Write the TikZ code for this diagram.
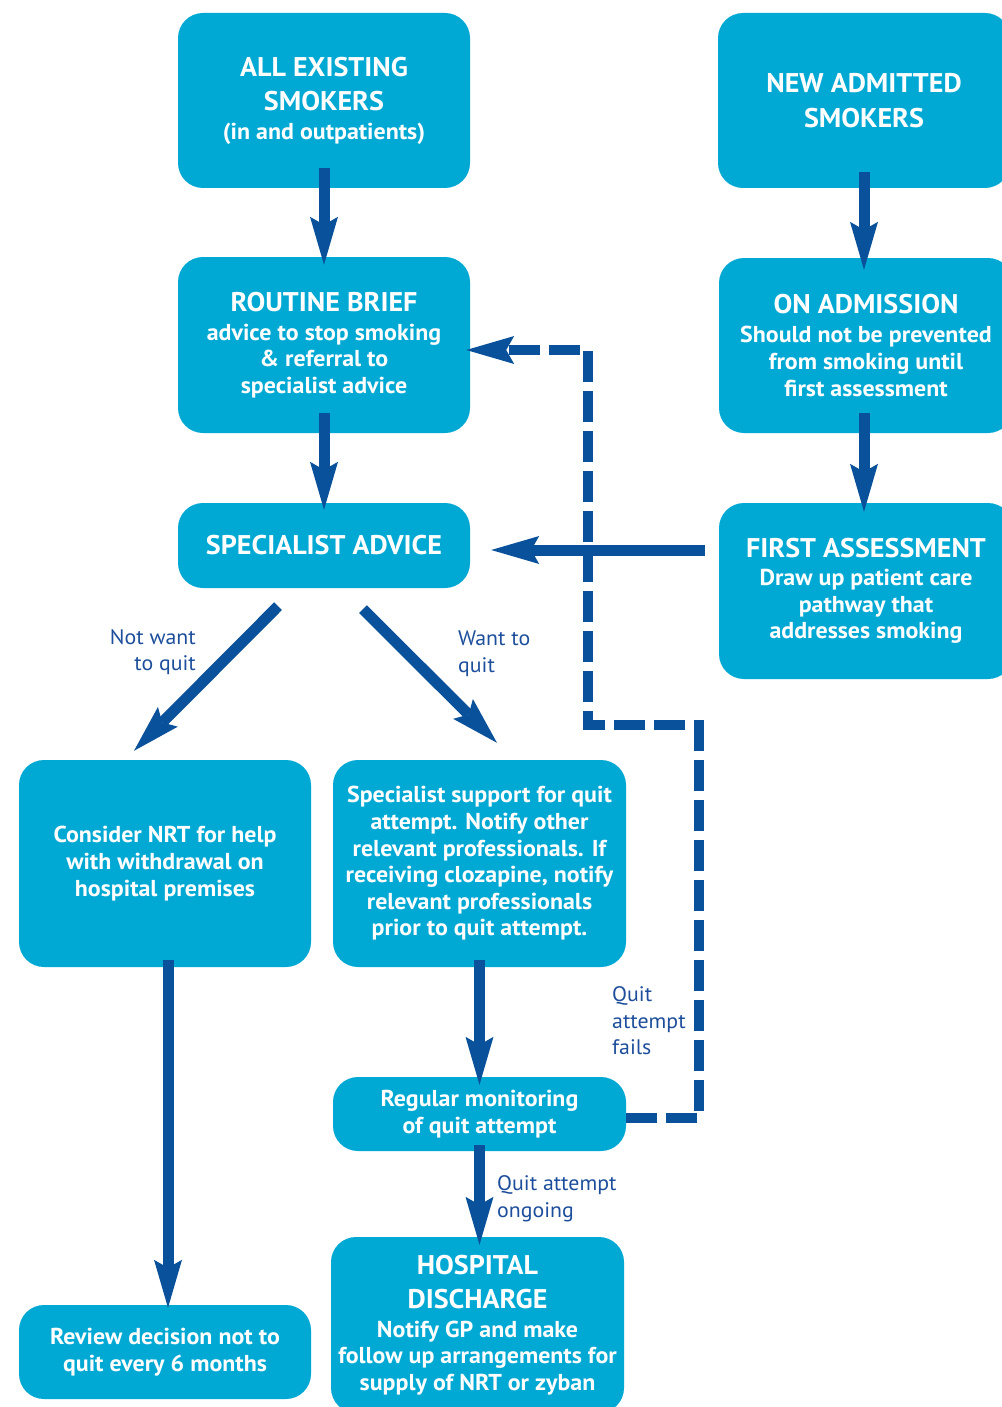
\documentclass[tikz,border=0pt]{standalone}
\usepackage{fontspec}
\setmainfont{PT Sans}[FakeStretch=1.04]
\usetikzlibrary{arrows.meta}
\definecolor{boxc}{HTML}{00A9D4}
\definecolor{arrc}{HTML}{0A519B}
\definecolor{labc}{HTML}{1D4E9B}
\newcommand\bxtitle{\fontsize{27}{34}\selectfont}
\newcommand\bxbody{\fontsize{23}{26.6}\selectfont}
\newcommand\lbfont{\fontsize{21}{26.6}\selectfont}
\begin{document}
\begin{tikzpicture}[x=1pt,y=-1pt,
  box/.style={fill=boxc, rounded corners=25pt, text=white, font=\bfseries\bxbody, align=center, inner sep=0pt},
  lab/.style={text=labc, font=\lbfont, inner sep=0pt},
  arr/.style={draw=arrc, line width=11pt, -{Stealth[length=48pt,width=28pt,inset=8pt,line width=0pt]}},
  darr/.style={draw=arrc, line width=10pt, dash pattern=on 31pt off 9pt, -{Stealth[length=48pt,width=28pt,inset=8pt,line width=0pt]}}]
\useasboundingbox (0,0) rectangle (1001,1407);

\node[box, minimum width=292pt, minimum height=175pt] (b1) at (324,100.5)
  {\bxtitle ALL EXISTING\\[7.4pt] \bxtitle SMOKERS\\[2.4pt] (in and outpatients)};
\node[box, minimum width=292pt, minimum height=175pt] (b2) at (864,100.5)
  {\bxtitle NEW ADMITTED\\[8pt] \bxtitle SMOKERS};
\node[box, minimum width=292pt, minimum height=176pt] (b3) at (324,345)
  {\bxtitle ROUTINE BRIEF\\[2.4pt] advice to stop smoking\\ \& referral to\\ specialist advice};
\node[box, minimum width=294pt, minimum height=175pt] (b4) at (866,345.5)
  {\bxtitle ON ADMISSION\\[2.4pt] Should not be prevented\\ from smoking until\\ first assessment};
\node[box, minimum width=292pt, minimum height=85pt] (b5) at (324,545.5)
  {\bxtitle SPECIALIST ADVICE};
\node[box, minimum width=294pt, minimum height=176pt] (b6) at (866,591)
  {\bxtitle FIRST ASSESSMENT\\[1.4pt] Draw up patient care\\ pathway that\\ addresses smoking};
\node[box, minimum width=292pt, minimum height=207pt] (b7) at (165,863.5)
  {Consider NRT for help\\ with withdrawal on\\ hospital premises};
\node[box, minimum width=293pt, minimum height=207pt] (b8) at (479.5,863.5)
  {Specialist support for quit\\ attempt. Notify other\\ relevant professionals. If\\ receiving clozapine, notify\\ relevant professionals\\ prior to quit attempt.};
\node[box, minimum width=293pt, minimum height=74pt] (b9) at (479.5,1114)
  {Regular monitoring\\ of quit attempt};
\node[box, minimum width=293pt, minimum height=176pt] (b10) at (477.5,1325)
  {\bxtitle HOSPITAL\\[7.4pt] \bxtitle DISCHARGE\\[2.4pt] Notify GP and make\\ follow up arrangements for\\ supply of NRT or zyban};
\node[box, minimum width=292pt, minimum height=94pt] (b11) at (165,1352)
  {Review decision not to\\ quit every 6 months};

\node[lab, anchor=east, align=right] (l1) at (196,652) {Not want\\ to quit};
\node[lab, anchor=west, align=left] (l2) at (458,654) {Want to\\ quit};
\node[lab, anchor=west, align=left] (l3) at (612,1021) {Quit\\ attempt\\ fails};
\node[lab, anchor=west, align=left] (l4) at (497,1199) {Quit attempt\\ ongoing};

\draw[arr] ([yshift=20pt]b1.south) -- ([yshift=-8pt]b3.north);
\draw[arr] ([yshift=20pt]b3.south) -- ([yshift=-7pt]b5.north);
\draw[arr] ([yshift=16pt]b2.south) -- ([xshift=-2pt,yshift=-12pt]b4.north);
\draw[arr] ([xshift=-2pt,yshift=20pt]b4.south) -- ([xshift=-2pt,yshift=-9pt]b6.north);
\coordinate (e65) at ([xshift=21pt,yshift=-4.5pt]b5.east);
\coordinate (s65) at ([xshift=-14pt]b6.west);
\draw[arr] (s65 |- e65) -- (e65);
\draw[arr] ([xshift=-46pt,yshift=-18pt]b5.south) -- ([xshift=-31pt,yshift=9pt]b7.north);
\draw[arr] ([xshift=39pt,yshift=-21pt]b5.south) -- ([xshift=17.5pt,yshift=17pt]b8.north);
\draw[arr] ([xshift=3pt,yshift=7pt]b7.south) -- ([xshift=3pt,yshift=-3pt]b11.north);
\draw[arr] ([yshift=7pt]b8.south) -- ([yshift=-8pt]b9.north);
\draw[arr] ([yshift=6pt]b9.south) -- ([xshift=2pt,yshift=-8pt]b10.north);

\coordinate (d0) at ([yshift=-4pt]b9.east);
\coordinate (d5) at ([xshift=-4pt,yshift=-5pt]b3.east);
\draw[darr] (d0) -- (699,1118) -- (699,725) -- (588,725) -- (588,350) -- (d5);
\end{tikzpicture}
\end{document}
